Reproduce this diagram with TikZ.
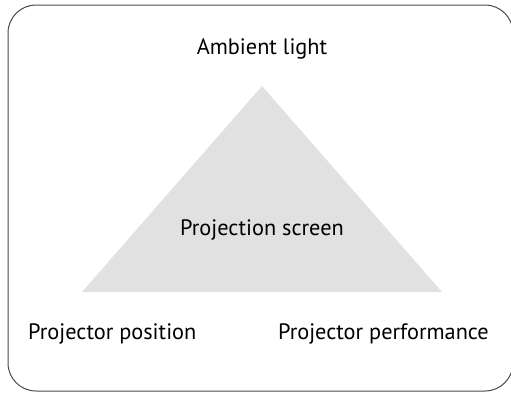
\documentclass[tikz,border=0pt]{standalone}
\usepackage{fontspec}
\setmainfont{PT Sans}
\definecolor{trifill}{HTML}{E0E1E0}
\definecolor{framecol}{HTML}{4A4A4A}
\begin{document}
\begin{tikzpicture}[x=1pt,y=-1pt,
  lbl/.style={inner sep=0pt, font=\fontsize{22.3}{26}\selectfont, text=black},
  frame/.style={draw=framecol, line width=1pt, rounded corners=28pt}]
\useasboundingbox (0,0) rectangle (511,392);
\begin{scope}
\clip (0,0) rectangle (511,392);
\draw[frame] (8,5) rectangle (513,391);
\end{scope}
\coordinate (apex) at (262,86);
\coordinate (bl) at (82,292);
\coordinate (br) at (442,292);
\fill[trifill] (apex) -- (bl) -- (br) -- cycle;
\node[lbl, anchor=base] (amb) at (262,54) {Ambient light};
\node[lbl, anchor=base] (scr) at (262,235) {Projection screen};
\node[lbl, anchor=base west] (pos) at (28,339) {Projector position};
\node[lbl, anchor=base east] (perf) at (489,339) {Projector performance};
\end{tikzpicture}
\end{document}
